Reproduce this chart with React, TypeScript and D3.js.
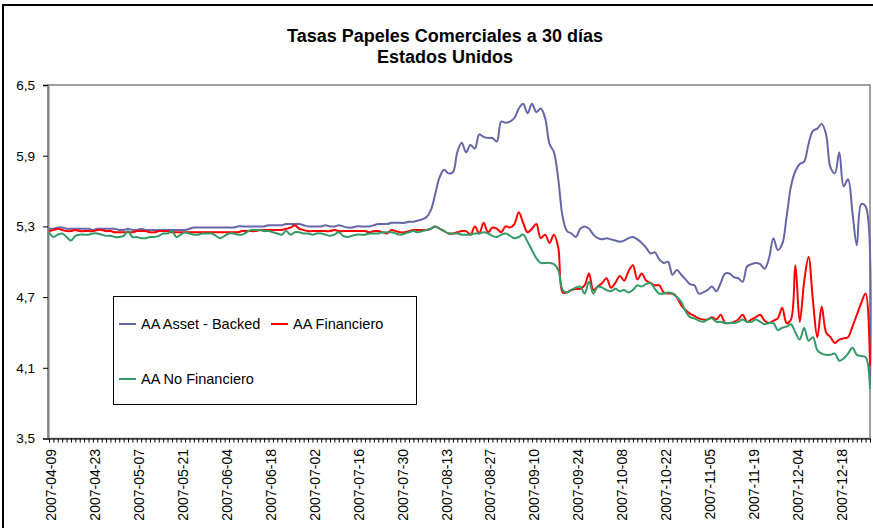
import * as d3 from "d3";
import { useEffect, useRef } from "react";

// business days shown on the category axis (Thanksgiving and Christmas are missing)
const firstDay = new Date(2007, 3, 9);
const lastDay = new Date(2007, 11, 28);
const holidays = ["2007-11-22", "2007-12-25"];
const fmt = d3.timeFormat("%Y-%m-%d");
const categories = d3.timeDay
	.range(firstDay, d3.timeDay.offset(lastDay, 1))
	.filter((d) => d.getDay() !== 0 && d.getDay() !== 6)
	.map((d) => fmt(d))
	.filter((d) => !holidays.includes(d));

const yTicks = [3.5, 4.1, 4.7, 5.3, 5.9, 6.5];
const labelEvery = 10;

const assetBacked = [
	5.28, 5.28, 5.29, 5.29, 5.28, 5.28, 5.28, 5.28, 5.28, 5.28,
	5.27, 5.28, 5.28, 5.28, 5.28, 5.28, 5.27, 5.27, 5.28, 5.27,
	5.27, 5.28, 5.27, 5.27, 5.27, 5.27, 5.27, 5.27, 5.27, 5.27,
	5.27, 5.27, 5.28, 5.29, 5.29, 5.29, 5.29, 5.29, 5.29, 5.29,
	5.29, 5.29, 5.29, 5.3, 5.3, 5.3, 5.3, 5.3, 5.3, 5.3,
	5.31, 5.31, 5.31, 5.31, 5.32, 5.32, 5.32, 5.32, 5.31, 5.3,
	5.3, 5.3, 5.3, 5.31, 5.3, 5.3, 5.31, 5.3, 5.29, 5.29,
	5.3, 5.3, 5.3, 5.3, 5.31, 5.32, 5.32, 5.32, 5.33, 5.33,
	5.33, 5.33, 5.34, 5.34, 5.35, 5.36, 5.38, 5.44, 5.58, 5.72,
	5.78, 5.75, 5.76, 5.93, 6.01, 5.93, 5.99, 5.96, 6.08, 6.06,
	6.05, 6.05, 6.02, 6.19, 6.18, 6.19, 6.22, 6.3, 6.34, 6.26,
	6.34, 6.27, 6.3, 6.22, 6.0, 5.93, 5.7, 5.38, 5.26, 5.24,
	5.21, 5.28, 5.3, 5.28, 5.23, 5.2, 5.19, 5.2, 5.19, 5.18,
	5.17, 5.18, 5.2, 5.21, 5.19, 5.16, 5.12, 5.07, 5.08, 5.02,
	4.99, 5.0, 4.89, 4.93, 4.89, 4.85, 4.81, 4.8, 4.73, 4.74,
	4.76, 4.79, 4.75, 4.82, 4.9, 4.9, 4.87, 4.86, 4.83, 4.96,
	4.98, 4.99, 4.98, 4.94, 5.03, 5.2, 5.1, 5.15, 5.38, 5.64,
	5.77, 5.83, 5.85, 6.0, 6.11, 6.13, 6.17, 6.08, 5.8, 5.75,
	5.93, 5.64, 5.7, 5.42, 5.14, 5.49, 5.47, 3.95,
];

const financiero = [
	5.26, 5.27, 5.28, 5.27, 5.26, 5.26, 5.27, 5.26, 5.26, 5.26,
	5.26, 5.27, 5.27, 5.26, 5.26, 5.25, 5.25, 5.25, 5.25, 5.25,
	5.26, 5.26, 5.26, 5.25, 5.25, 5.26, 5.26, 5.26, 5.25, 5.25,
	5.25, 5.25, 5.25, 5.25, 5.25, 5.25, 5.25, 5.25, 5.25, 5.25,
	5.25, 5.25, 5.25, 5.25, 5.26, 5.26, 5.26, 5.26, 5.27, 5.27,
	5.27, 5.27, 5.27, 5.27, 5.28, 5.29, 5.31, 5.28, 5.27, 5.26,
	5.26, 5.26, 5.26, 5.26, 5.26, 5.27, 5.26, 5.26, 5.26, 5.26,
	5.26, 5.26, 5.26, 5.25, 5.26, 5.26, 5.25, 5.24, 5.27, 5.26,
	5.25, 5.25, 5.26, 5.27, 5.27, 5.27, 5.27, 5.28, 5.3, 5.28,
	5.26, 5.24, 5.24, 5.25, 5.26, 5.26, 5.23, 5.3, 5.24, 5.33,
	5.25, 5.29, 5.28, 5.25, 5.3, 5.29, 5.32, 5.42, 5.33, 5.25,
	5.28, 5.32, 5.2, 5.23, 5.16, 5.23, 5.12, 4.74, 4.74, 4.76,
	4.77, 4.77, 4.8, 4.9, 4.76, 4.79, 4.82, 4.86, 4.78, 4.82,
	4.88, 4.84, 4.92, 4.97, 4.85, 4.9, 4.84, 4.82, 4.8, 4.8,
	4.74, 4.73, 4.73, 4.7, 4.63, 4.59, 4.56, 4.54, 4.52, 4.51,
	4.51, 4.53, 4.51, 4.55, 4.48, 4.48, 4.49, 4.51, 4.55, 4.49,
	4.51, 4.53, 4.55, 4.5, 4.48, 4.5, 4.52, 4.61, 4.48, 4.51,
	4.97, 4.49, 4.83, 5.04, 4.67, 4.36, 4.62, 4.4, 4.36, 4.31,
	4.34, 4.35, 4.36, 4.45, 4.55, 4.65, 4.73, 4.12,
];

const noFinanciero = [
	5.25, 5.21, 5.23, 5.24, 5.21, 5.18, 5.22, 5.23, 5.23, 5.23,
	5.24, 5.24, 5.23, 5.22, 5.22, 5.21, 5.21, 5.22, 5.26, 5.21,
	5.21, 5.2, 5.2, 5.21, 5.21, 5.22, 5.24, 5.24, 5.26, 5.21,
	5.23, 5.25, 5.24, 5.23, 5.23, 5.24, 5.24, 5.24, 5.22, 5.2,
	5.22, 5.24, 5.24, 5.23, 5.23, 5.25, 5.27, 5.27, 5.27, 5.26,
	5.26, 5.25, 5.24, 5.23, 5.26, 5.23, 5.25, 5.25, 5.24, 5.24,
	5.23, 5.24, 5.24, 5.23, 5.22, 5.23, 5.25, 5.22, 5.21, 5.22,
	5.23, 5.23, 5.23, 5.24, 5.24, 5.24, 5.25, 5.25, 5.25, 5.24,
	5.23, 5.24, 5.25, 5.26, 5.25, 5.26, 5.27, 5.28, 5.3, 5.28,
	5.26, 5.24, 5.24, 5.24, 5.23, 5.23, 5.23, 5.24, 5.24, 5.25,
	5.24, 5.22, 5.21, 5.23, 5.24, 5.22, 5.2, 5.21, 5.23, 5.17,
	5.1, 5.03, 4.99, 4.99, 4.99, 4.98, 4.93, 4.76, 4.74, 4.76,
	4.78, 4.79, 4.73, 4.83, 4.73, 4.79, 4.78, 4.76, 4.75, 4.77,
	4.75, 4.76, 4.74, 4.76, 4.8, 4.79, 4.81, 4.82, 4.77, 4.73,
	4.73, 4.74, 4.73, 4.7, 4.66, 4.58, 4.53, 4.52, 4.5, 4.49,
	4.51, 4.52, 4.49, 4.49, 4.48, 4.48, 4.48, 4.49, 4.51, 4.49,
	4.49, 4.51, 4.49, 4.47, 4.48, 4.48, 4.42, 4.44, 4.45, 4.47,
	4.4, 4.34, 4.44, 4.33, 4.36, 4.25, 4.22, 4.21, 4.21, 4.22,
	4.16, 4.18, 4.22, 4.27, 4.21, 4.2, 4.19, 3.92,
];

const seriesNames = ["AA Asset - Backed", "AA Financiero", "AA No Financiero"];
const seriesColors = ["#6666a8", "#ff0000", "#339966"];

const width = 873;
const height = 528;
const font = "Arial, 'Liberation Sans', sans-serif";

function App() {
	const ref = useRef<SVGSVGElement>(null);

	useEffect(() => {
		const svg = d3.select(ref.current);
		svg.selectAll("*").remove();

		const left = 48;
		const right = 870;
		const top = 85;
		const bottom = 438.5;

		const x = d3.scalePoint<string>().domain(categories).range([49, 870]);
		const y = d3.scaleLinear().domain([3.5, 6.5]).range([bottom, top]);

		svg.append("rect").attr("width", width).attr("height", height).attr("fill", "white");
		// chart frame
		svg.append("rect")
			.attr("x", 3)
			.attr("y", 5)
			.attr("width", 890)
			.attr("height", 560)
			.attr("fill", "none")
			.attr("stroke", "black")
			.attr("stroke-width", 2);

		const title = svg.append("text")
			.attr("text-anchor", "middle")
			.style("font-family", font)
			.style("font-size", "18px")
			.style("font-weight", "bold");
		title.append("tspan").attr("x", 445).attr("y", 41.5).text("Tasas Papeles Comerciales a 30 días");
		title.append("tspan").attr("x", 445).attr("y", 62.5).text("Estados Unidos");

		// plot area border
		svg.append("rect")
			.attr("x", left)
			.attr("y", top)
			.attr("width", right - left)
			.attr("height", bottom - top)
			.attr("fill", "none")
			.attr("stroke", "#808080")
			.attr("stroke-width", 1.5);

		const yAxis = svg.append("g")
			.attr("transform", `translate(${left},0)`)
			.call(
				d3.axisLeft(y)
					.tickValues(yTicks)
					.tickSize(5)
					.tickPadding(8)
					.tickFormat((d) => d3.format(".1f")(d as number).replace(".", ","))
			);
		yAxis.select(".domain").attr("stroke", "#808080").attr("stroke-width", 2);
		yAxis.selectAll("text").style("font-family", font).style("font-size", "13.5px").attr("fill", "black");

		const xAxis = svg.append("g")
			.attr("transform", `translate(0,${bottom})`)
			.call(d3.axisBottom(x).tickSize(4).tickFormat(() => ""));
		xAxis.select(".domain").attr("d", `M${left},0.5H${right}`);
		xAxis.selectAll("text").remove();

		svg.append("g")
			.selectAll("text")
			.data(categories.filter((_, i) => i % labelEvery === 0))
			.enter()
			.append("text")
			.attr("transform", (d) => `translate(${(x(d) ?? 0) + 2.5},449) rotate(-90)`)
			.attr("dy", "0.35em")
			.attr("text-anchor", "end")
			.style("font-family", font)
			.style("font-size", "14px")
			.text((d) => d);

		const line = d3
			.line<number>()
			.x((_, i) => x(categories[i]) ?? 0)
			.y((d) => y(d))
			.curve(d3.curveCatmullRom.alpha(0.5));

		[assetBacked, financiero, noFinanciero].forEach((values, i) => {
			svg.append("path")
				.datum(values)
				.attr("fill", "none")
				.attr("stroke", seriesColors[i])
				.attr("stroke-width", 2)
				.attr("stroke-linejoin", "round")
				.attr("d", line);
		});

		// legend
		const legend = svg.append("g");
		legend.append("rect")
			.attr("x", 113.5)
			.attr("y", 296.5)
			.attr("width", 303)
			.attr("height", 108)
			.attr("fill", "white")
			.attr("stroke", "black");
		const legendPos = [
			[119, 324],
			[271, 324],
			[119, 379],
		];
		seriesNames.forEach((name, i) => {
			const [lx, ly] = legendPos[i];
			legend.append("line")
				.attr("x1", lx)
				.attr("x2", lx + 17)
				.attr("y1", ly)
				.attr("y2", ly)
				.attr("stroke", seriesColors[i])
				.attr("stroke-width", 2);
			legend.append("text")
				.attr("x", lx + 22)
				.attr("y", ly)
				.attr("dy", "0.35em")
				.style("font-family", font)
				.style("font-size", "14.5px")
				.text(name);
		});
	}, []);

	return (
		<svg
			ref={ref}
			width={width}
			height={height}
			style={{ position: "absolute", left: 0, top: 0 }}
		/>
	);
}

export default App;
